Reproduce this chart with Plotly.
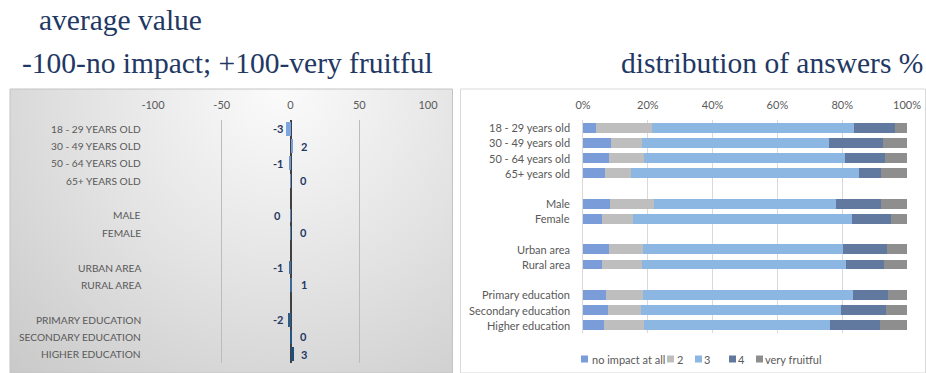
import base64
import plotly.graph_objects as go

# ---- data -------------------------------------------------------------
# "" marks an empty spacer row between the groups
categories = ["18 - 29 years old", "30 - 49 years old", "50 - 64 years old", "65+ years old", "",
              "Male", "Female", "",
              "Urban area", "Rural area", "",
              "Primary education", "Secondary education", "Higher education"]

# average value on the -100 (no impact) .. +100 (very fruitful) scale
avg_value = [-3.2, 1.6, -1.1, 0.3, None, -0.3, 0.2, None, -0.9, 1.2, None, -2.0, 0.4, 2.9]

# distribution of answers, %
answer_names = ["no impact at all", "2", "3", "4", "very fruitful"]
share_no_impact = [3.9, 8.7, 8.1, 6.7, None, 8.2, 5.9, None, 7.9, 5.9, None, 7.0, 7.6, 6.4]
share_2 = [17.5, 9.5, 10.6, 8.0, None, 13.6, 9.4, None, 10.7, 12.2, None, 11.6, 10.4, 12.5]
share_3 = [62.1, 57.6, 62.2, 70.6, None, 56.2, 67.8, None, 61.6, 63.0, None, 64.6, 61.7, 57.2]
share_4 = [12.7, 16.9, 12.3, 6.7, None, 14.0, 11.9, None, 13.6, 11.8, None, 10.9, 13.8, 15.5]
share_very = [3.8, 7.3, 6.8, 8.0, None, 8.0, 5.0, None, 6.2, 7.1, None, 5.9, 6.5, 8.4]

avg_ticks = [-100, -50, 0, 50, 100]
pct_ticks = [0, 20, 40, 60, 80, 100]
pct_tick_labels = ["0%", "20%", "40%", "60%", "80%", "100%"]

title_left_1 = "average value"
title_left_2 = "-100-no impact; +100-very fruitful"
title_right = "distribution of answers %"

# ---- styling ----------------------------------------------------------
W, H = 926, 373
LABEL_FONT = "Lato"
TITLE_FONT = "Liberation Serif"
TEXT_GREY = "#595959"
NAVY = "#1f3864"
answer_colors = ["#7a9cd8", "#bebebe", "#8db7e3", "#62799f", "#8e8e8e"]

LEFT_X0, LEFT_X1 = 153, 428      # plot area of the average-value panel (px)
RIGHT_X0, RIGHT_X1 = 583, 907    # plot area of the distribution panel (px)


def px_x(p):
    return p / W


def px_y(p):
    return 1 - p / H


rows = list(range(len(categories)))
tick_rows = [i for i, c in enumerate(categories) if c]


def blend(c1, c2, t):
    a = [int(c1[i:i + 2], 16) for i in (1, 3, 5)]
    b = [int(c2[i:i + 2], 16) for i in (1, 3, 5)]
    return "#" + "".join(f"{round(x + (y - x) * t):02x}" for x, y in zip(a, b))


# bars shade from light blue at the top to dark navy at the bottom
n = len(rows) - 1
avg_colors = [blend("#7ea6de", "#1f4e79", i / n) for i in rows]

fig = go.Figure()

# left panel: average value bars
fig.add_trace(go.Bar(
    x=avg_value, y=rows, orientation="h", width=0.8,
    marker=dict(color=avg_colors, line=dict(width=0)),
    xaxis="x", yaxis="y", showlegend=False, hoverinfo="skip",
))

# value labels sit just beside the zero axis
for r, v in zip(rows, avg_value):
    if v is None:
        continue
    neg = v < 0
    fig.add_annotation(
        x=0, y=r, xref="x", yref="y", text=f"<b>{int(round(v))}</b>",
        showarrow=False, xanchor="center",
        xshift=-13 if neg else 13,
        font=dict(family=LABEL_FONT, size=11, color=NAVY),
    )

# right panel: stacked distribution
for name, vals, col in zip(answer_names,
                           [share_no_impact, share_2, share_3, share_4, share_very],
                           answer_colors):
    fig.add_trace(go.Bar(
        x=vals, y=rows, orientation="h", name=name, width=0.65,
        marker=dict(color=col, line=dict(width=0)),
        xaxis="x2", yaxis="y2", hoverinfo="skip", showlegend=False,
    ))

# category labels left of each panel
for r in tick_rows:
    fig.add_annotation(text=categories[r].upper(), xref="paper", yref="y",
                       x=px_x(LEFT_X0 - 11), y=r, xanchor="right", yanchor="middle",
                       showarrow=False, borderpad=0,
                       font=dict(family=LABEL_FONT, size=10.2, color=TEXT_GREY))
    fig.add_annotation(text=categories[r], xref="paper", yref="y2",
                       x=px_x(RIGHT_X0 - 12), y=r, xanchor="right", yanchor="middle",
                       showarrow=False, borderpad=0,
                       font=dict(family=LABEL_FONT, size=11, color=TEXT_GREY))

# compact legend under the stacked bars: small square key + label
legend_keys = [581, 667, 695, 729, 756]
legend_text_mid = [628, 679.5, 706.5, 741, 792.5]
for name, col, kx, tx in zip(answer_names, answer_colors, legend_keys, legend_text_mid):
    fig.add_shape(type="rect", xref="paper", yref="paper",
                  x0=px_x(kx), x1=px_x(kx + 7), y0=px_y(362.5), y1=px_y(355.5),
                  fillcolor=col, line=dict(width=0))
    fig.add_annotation(text=name, xref="paper", yref="paper",
                       x=px_x(tx), y=px_y(359), xanchor="center", yanchor="middle",
                       showarrow=False, borderpad=0,
                       font=dict(family=LABEL_FONT, size=11, color=TEXT_GREY))

# soft grey radial backdrop of the left panel
svg = """<svg xmlns='http://www.w3.org/2000/svg' width='443' height='284' preserveAspectRatio='none'>
<defs><radialGradient id='g' gradientUnits='userSpaceOnUse' cx='270' cy='0' r='430'>
<stop offset='0' stop-color='#fbfbfb'/><stop offset='0.45' stop-color='#e3e3e3'/>
<stop offset='1' stop-color='#c4c4c4'/></radialGradient></defs>
<rect width='443' height='284' fill='url(#g)'/></svg>"""
svg_uri = "data:image/svg+xml;base64," + base64.b64encode(svg.encode()).decode()

fig.add_layout_image(dict(
    source=svg_uri, xref="paper", yref="paper",
    x=px_x(10), y=px_y(89), sizex=px_x(443), sizey=284 / H,
    xanchor="left", yanchor="top", sizing="stretch", layer="below",
))

# panel frames
fig.add_shape(type="rect", xref="paper", yref="paper",
              x0=px_x(10), x1=px_x(452.5), y0=px_y(373), y1=px_y(89),
              line=dict(color="#c4c4c4", width=1), layer="above")
fig.add_shape(type="rect", xref="paper", yref="paper",
              x0=px_x(460.5), x1=px_x(925.5), y0=px_y(373), y1=px_y(89),
              line=dict(color="#d9d9d9", width=1), layer="below")

# titles
title_font = dict(family=TITLE_FONT, size=29.5, color=NAVY)
fig.add_annotation(text=title_left_1, xref="paper", yref="paper",
                   x=px_x(120.5), y=px_y(20), xanchor="center", yanchor="middle",
                   showarrow=False, borderpad=0, font=title_font)
fig.add_annotation(text=title_left_2, xref="paper", yref="paper",
                   x=px_x(227), y=px_y(63), xanchor="center", yanchor="middle",
                   showarrow=False, borderpad=0, font=title_font)
fig.add_annotation(text=title_right, xref="paper", yref="paper",
                   x=px_x(771.5), y=px_y(63), xanchor="center", yanchor="middle",
                   showarrow=False, borderpad=0, font=title_font)

tick_font = dict(family=LABEL_FONT, size=11, color=TEXT_GREY)

fig.update_layout(
    width=W, height=H,
    margin=dict(l=0, r=0, t=0, b=0, autoexpand=False),
    paper_bgcolor="white", plot_bgcolor="rgba(0,0,0,0)",
    barmode="stack", bargap=0, showlegend=False,
    xaxis=dict(domain=[px_x(LEFT_X0), px_x(LEFT_X1)], range=[-100, 100], side="top",
               tickvals=avg_ticks, ticktext=[str(t) for t in avg_ticks],
               tickfont=tick_font, showgrid=True, gridcolor="#bcbcbc", gridwidth=1,
               zeroline=True, zerolinecolor="#404040", zerolinewidth=2,
               showline=False, ticks="", ticklabelstandoff=8,
               automargin=False, fixedrange=True),
    yaxis=dict(domain=[px_y(363), px_y(120)], range=[len(rows) - 0.5, -0.5],
               showticklabels=False, showgrid=False, zeroline=False, showline=False,
               ticks="", anchor="x", automargin=False, fixedrange=True),
    xaxis2=dict(domain=[px_x(RIGHT_X0), px_x(RIGHT_X1)], range=[0, 100], side="top",
                tickvals=pct_ticks, ticktext=pct_tick_labels,
                tickfont=tick_font, showgrid=True, gridcolor="#d9d9d9", gridwidth=1,
                zeroline=False, showline=False, ticks="", ticklabelstandoff=8,
                anchor="y2", automargin=False, fixedrange=True),
    yaxis2=dict(domain=[px_y(333), px_y(120)], range=[len(rows) - 0.5, -0.5],
                showticklabels=False, showgrid=False, zeroline=False,
                showline=True, linecolor="#d9d9d9",
                ticks="", anchor="x2", automargin=False, fixedrange=True),
)

fig.write_html("out.html")
